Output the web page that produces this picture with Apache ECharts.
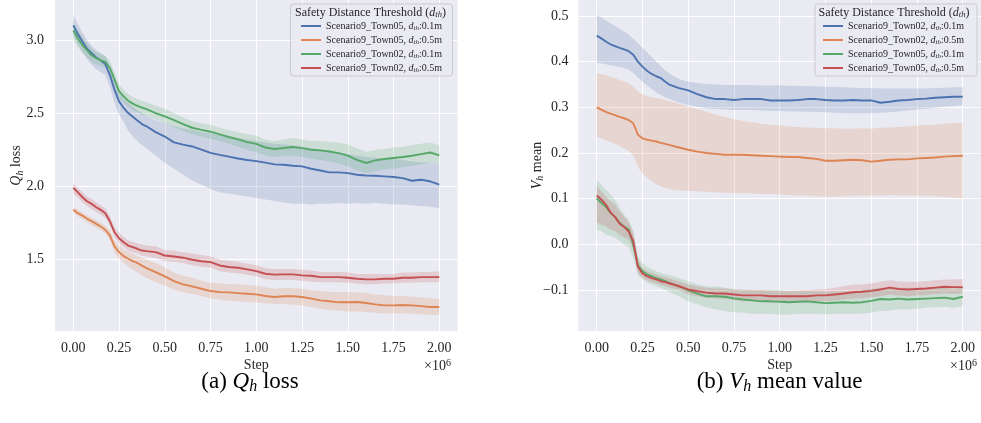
<!DOCTYPE html>
<html><head><meta charset="utf-8">
<script src="https://cdn.jsdelivr.net/npm/echarts@6/dist/echarts.min.js"></script>
<style>html,body{margin:0;padding:0;background:#fff}#c{width:981px;height:423px}</style>
</head><body><div id="c"></div>
<script>
// ---------- DATA ----------
const steps = [0,0.025,0.05,0.075,0.1,0.125,0.15,0.175,0.2,0.225,0.25,0.275,0.3,0.325,0.35,0.375,0.4,
  0.45,0.5,0.55,0.6,0.65,0.7,0.75,0.8,0.85,0.9,0.95,1.0,
  1.05,1.1,1.15,1.2,1.25,1.3,1.35,1.4,1.45,1.5,
  1.55,1.6,1.65,1.7,1.75,1.8,1.85,1.9,1.95,2.0]; // x 1e6
const xTicks = [0,0.25,0.5,0.75,1.0,1.25,1.5,1.75,2.0];
const qTicks = [1.5,2.0,2.5,3.0];
const vTicks = [-0.1,0.0,0.1,0.2,0.3,0.4,0.5];

// (a) Q_h loss
const qT05d01 = [3.10,3.04,2.99,2.94,2.91,2.88,2.86,2.835,2.76,2.66,2.58,2.535,2.50,2.475,2.45,2.425,2.41,
  2.37,2.34,2.30,2.285,2.272,2.25,2.228,2.215,2.203,2.19,2.18,2.172,
  2.162,2.15,2.147,2.14,2.136,2.12,2.108,2.095,2.095,2.09,
  2.079,2.074,2.072,2.068,2.063,2.056,2.038,2.045,2.034,2.011];
const qT05d01Lo = [3.03,2.97,2.92,2.87,2.83,2.80,2.78,2.76,2.68,2.57,2.49,2.44,2.38,2.34,2.31,2.28,2.26,
  2.21,2.16,2.12,2.08,2.04,2.01,1.98,1.96,1.95,1.94,1.93,1.92,
  1.91,1.90,1.89,1.88,1.88,1.875,1.88,1.88,1.885,1.88,
  1.885,1.88,1.885,1.88,1.875,1.875,1.87,1.865,1.86,1.85];
const qT05d01Hi = [3.17,3.11,3.05,3.00,2.96,2.93,2.91,2.89,2.82,2.72,2.64,2.60,2.57,2.545,2.52,2.50,2.48,
  2.45,2.43,2.41,2.395,2.385,2.37,2.36,2.35,2.34,2.33,2.32,2.31,
  2.30,2.29,2.285,2.28,2.27,2.26,2.25,2.24,2.23,2.22,
  2.21,2.20,2.195,2.19,2.185,2.18,2.17,2.165,2.16,2.15];

const qT05d05 = [1.839,1.816,1.80,1.778,1.762,1.743,1.725,1.703,1.664,1.589,1.55,1.523,1.505,1.488,1.476,1.458,1.441,
  1.413,1.384,1.352,1.33,1.316,1.30,1.284,1.277,1.275,1.27,1.266,1.261,
  1.25,1.243,1.248,1.248,1.243,1.232,1.22,1.214,1.207,1.207,
  1.209,1.202,1.193,1.186,1.186,1.189,1.186,1.181,1.175,1.175];
const qT05d05Lo = [1.82,1.795,1.775,1.755,1.735,1.715,1.70,1.675,1.63,1.55,1.505,1.475,1.45,1.43,1.41,1.39,1.375,
  1.345,1.32,1.295,1.275,1.265,1.25,1.235,1.225,1.22,1.215,1.21,1.205,
  1.20,1.195,1.195,1.19,1.185,1.175,1.165,1.155,1.15,1.145,
  1.145,1.14,1.135,1.13,1.13,1.13,1.13,1.125,1.12,1.12];
const qT05d05Hi = [1.86,1.84,1.82,1.80,1.785,1.77,1.75,1.73,1.70,1.63,1.595,1.57,1.555,1.54,1.525,1.51,1.50,
  1.475,1.445,1.41,1.39,1.375,1.355,1.34,1.335,1.33,1.33,1.325,1.32,
  1.31,1.30,1.305,1.305,1.30,1.29,1.285,1.28,1.275,1.275,
  1.275,1.27,1.26,1.255,1.25,1.25,1.245,1.24,1.235,1.23];

const qT02d01 = [3.064,3.01,2.965,2.93,2.895,2.875,2.86,2.85,2.81,2.73,2.65,2.615,2.585,2.565,2.55,2.538,2.527,
  2.50,2.478,2.452,2.425,2.40,2.385,2.373,2.355,2.337,2.32,2.302,2.29,
  2.265,2.255,2.262,2.268,2.261,2.25,2.245,2.238,2.227,2.209,
  2.181,2.159,2.177,2.186,2.193,2.20,2.209,2.22,2.231,2.211];
const qT02d01Lo = [3.00,2.95,2.91,2.88,2.85,2.83,2.82,2.81,2.76,2.68,2.60,2.57,2.54,2.52,2.505,2.49,2.48,
  2.455,2.43,2.405,2.38,2.355,2.34,2.325,2.31,2.29,2.27,2.25,2.235,
  2.21,2.20,2.205,2.21,2.20,2.19,2.18,2.17,2.155,2.135,
  2.11,2.09,2.105,2.115,2.12,2.13,2.14,2.15,2.16,2.15];
const qT02d01Hi = [3.13,3.07,3.02,2.98,2.94,2.92,2.90,2.89,2.86,2.78,2.70,2.66,2.63,2.61,2.595,2.585,2.575,
  2.55,2.53,2.50,2.47,2.445,2.43,2.42,2.40,2.385,2.37,2.355,2.345,
  2.32,2.31,2.32,2.33,2.32,2.31,2.31,2.305,2.30,2.285,
  2.26,2.235,2.25,2.255,2.265,2.27,2.28,2.29,2.30,2.28];

const qT02d05 = [1.989,1.959,1.925,1.898,1.88,1.857,1.839,1.816,1.761,1.686,1.645,1.618,1.595,1.584,1.573,1.561,1.557,
  1.55,1.527,1.52,1.512,1.498,1.488,1.482,1.459,1.448,1.443,1.432,1.42,
  1.402,1.396,1.398,1.398,1.391,1.389,1.379,1.379,1.379,1.375,
  1.368,1.364,1.364,1.368,1.368,1.375,1.375,1.379,1.379,1.379];
const qT02d05Lo = [1.95,1.925,1.89,1.865,1.845,1.825,1.805,1.785,1.73,1.655,1.61,1.585,1.56,1.55,1.54,1.525,1.52,
  1.51,1.49,1.485,1.475,1.46,1.45,1.445,1.42,1.41,1.405,1.395,1.385,
  1.365,1.36,1.36,1.36,1.355,1.35,1.345,1.345,1.345,1.34,
  1.335,1.33,1.33,1.335,1.335,1.34,1.34,1.345,1.345,1.345];
const qT02d05Hi = [2.02,1.99,1.96,1.93,1.915,1.89,1.87,1.85,1.795,1.72,1.68,1.655,1.63,1.62,1.61,1.60,1.595,
  1.59,1.565,1.56,1.55,1.54,1.53,1.52,1.50,1.49,1.485,1.47,1.46,
  1.44,1.435,1.435,1.435,1.43,1.425,1.415,1.415,1.415,1.41,
  1.40,1.40,1.40,1.40,1.40,1.41,1.41,1.415,1.415,1.42];

// (b) V_h mean
const vT02d01 = [0.457,0.451,0.444,0.438,0.434,0.43,0.427,0.423,0.415,0.40,0.389,0.38,0.373,0.368,0.364,0.356,0.349,
  0.342,0.337,0.329,0.322,0.318,0.318,0.316,0.318,0.318,0.318,0.315,0.315,
  0.315,0.316,0.318,0.318,0.316,0.315,0.315,0.316,0.315,0.315,
  0.31,0.312,0.315,0.316,0.318,0.319,0.321,0.322,0.323,0.323];
const vT02d01Lo = [0.398,0.396,0.394,0.392,0.39,0.388,0.386,0.382,0.375,0.365,0.356,0.348,0.34,0.333,0.327,0.322,0.318,
  0.31,0.305,0.301,0.298,0.296,0.295,0.294,0.294,0.294,0.293,0.292,0.292,
  0.291,0.291,0.29,0.29,0.289,0.288,0.287,0.287,0.287,0.287,
  0.288,0.289,0.291,0.293,0.295,0.297,0.299,0.301,0.303,0.305];
const vT02d01Hi = [0.502,0.497,0.49,0.484,0.478,0.472,0.466,0.46,0.45,0.44,0.43,0.42,0.41,0.40,0.39,0.38,0.373,
  0.362,0.356,0.353,0.351,0.35,0.349,0.349,0.349,0.349,0.348,0.348,0.348,
  0.347,0.347,0.346,0.346,0.345,0.345,0.344,0.343,0.342,0.342,
  0.341,0.341,0.341,0.341,0.341,0.341,0.342,0.343,0.344,0.344];

const vT02d05 = [0.30,0.295,0.29,0.286,0.283,0.279,0.276,0.272,0.265,0.24,0.232,0.229,0.227,0.225,0.222,0.22,0.217,
  0.212,0.207,0.203,0.20,0.198,0.196,0.196,0.196,0.195,0.194,0.193,0.192,
  0.191,0.191,0.189,0.187,0.183,0.183,0.184,0.185,0.184,0.181,
  0.183,0.185,0.186,0.186,0.188,0.189,0.19,0.192,0.193,0.194];
const vT02d05Lo = [0.235,0.232,0.228,0.224,0.22,0.215,0.21,0.205,0.195,0.17,0.155,0.145,0.138,0.132,0.127,0.123,0.12,
  0.118,0.117,0.116,0.115,0.114,0.113,0.112,0.112,0.111,0.11,0.11,0.109,
  0.108,0.107,0.106,0.105,0.104,0.104,0.105,0.106,0.106,0.107,
  0.107,0.108,0.107,0.107,0.106,0.106,0.105,0.104,0.102,0.101];
const vT02d05Hi = [0.375,0.372,0.37,0.367,0.364,0.36,0.357,0.352,0.345,0.335,0.328,0.325,0.322,0.32,0.318,0.316,0.313,
  0.308,0.302,0.296,0.29,0.284,0.279,0.274,0.27,0.267,0.264,0.262,0.26,
  0.258,0.257,0.256,0.255,0.254,0.254,0.253,0.253,0.254,0.253,
  0.255,0.256,0.257,0.258,0.26,0.261,0.262,0.264,0.265,0.266];

const vT05d01 = [0.101,0.091,0.082,0.069,0.06,0.047,0.039,0.032,-0.001,-0.046,-0.059,-0.066,-0.07,-0.074,-0.077,-0.081,-0.085,
  -0.092,-0.101,-0.108,-0.114,-0.114,-0.115,-0.1185,-0.121,-0.123,-0.125,-0.125,-0.126,
  -0.127,-0.126,-0.125,-0.127,-0.129,-0.128,-0.127,-0.128,-0.127,-0.124,
  -0.12,-0.121,-0.119,-0.121,-0.12,-0.119,-0.118,-0.117,-0.12,-0.115];
const vT05d01Lo = [0.032,0.029,0.021,0.018,0.014,0.007,-0.001,-0.006,-0.03,-0.066,-0.077,-0.084,-0.088,-0.092,-0.095,-0.1,-0.105,
  -0.114,-0.125,-0.132,-0.138,-0.143,-0.146,-0.149,-0.15,-0.152,-0.152,-0.153,-0.154,
  -0.154,-0.153,-0.152,-0.152,-0.154,-0.152,-0.152,-0.152,-0.152,-0.15,
  -0.146,-0.145,-0.143,-0.143,-0.141,-0.139,-0.138,-0.137,-0.139,-0.136];
const vT05d01Hi = [0.142,0.131,0.12,0.109,0.098,0.08,0.065,0.054,0.029,-0.026,-0.041,-0.049,-0.054,-0.059,-0.063,-0.065,-0.068,
  -0.074,-0.081,-0.088,-0.092,-0.092,-0.095,-0.098,-0.099,-0.1,-0.1,-0.1,-0.1,
  -0.103,-0.103,-0.103,-0.103,-0.104,-0.103,-0.103,-0.103,-0.1,-0.098,
  -0.095,-0.097,-0.095,-0.096,-0.095,-0.095,-0.095,-0.095,-0.099,-0.093];

const vT05d05 = [0.107,0.098,0.087,0.07,0.06,0.045,0.038,0.028,0.007,-0.049,-0.064,-0.07,-0.074,-0.077,-0.081,-0.083,-0.086,
  -0.092,-0.099,-0.103,-0.106,-0.108,-0.108,-0.11,-0.112,-0.112,-0.112,-0.114,-0.114,
  -0.114,-0.114,-0.114,-0.112,-0.112,-0.11,-0.108,-0.105,-0.104,-0.102,
  -0.099,-0.095,-0.098,-0.099,-0.098,-0.097,-0.095,-0.093,-0.094,-0.094];
const vT05d05Lo = [0.047,0.043,0.04,0.032,0.029,0.021,0.014,0.01,-0.011,-0.063,-0.074,-0.079,-0.082,-0.086,-0.089,-0.092,-0.095,
  -0.1,-0.11,-0.114,-0.117,-0.119,-0.119,-0.122,-0.125,-0.125,-0.125,-0.127,-0.127,
  -0.127,-0.127,-0.127,-0.125,-0.125,-0.123,-0.121,-0.119,-0.118,-0.116,
  -0.114,-0.11,-0.112,-0.114,-0.112,-0.111,-0.109,-0.108,-0.109,-0.108];
const vT05d05Hi = [0.127,0.116,0.105,0.094,0.087,0.072,0.061,0.047,0.025,-0.033,-0.052,-0.059,-0.063,-0.066,-0.07,-0.072,-0.075,
  -0.081,-0.088,-0.092,-0.095,-0.097,-0.097,-0.099,-0.1,-0.1,-0.1,-0.102,-0.102,
  -0.102,-0.101,-0.1,-0.099,-0.098,-0.095,-0.092,-0.088,-0.088,-0.086,
  -0.082,-0.079,-0.081,-0.082,-0.082,-0.081,-0.079,-0.077,-0.077,-0.076];

// ---------- CHART ----------
const FONT = '"Liberation Serif", "DejaVu Serif", serif';
const TXT = '#262626';
const COL = {blue:'#4C72B0', orange:'#DD8452', green:'#55A868', red:'#C44E52'};

const legendLabels = {
  'a1': ['Scenario9_Town05, ', ':0.1m'],
  'a2': ['Scenario9_Town05, ', ':0.5m'],
  'a3': ['Scenario9_Town02, ', ':0.1m'],
  'a4': ['Scenario9_Town02, ', ':0.5m'],
  'b1': ['Scenario9_Town02, ', ':0.1m'],
  'b2': ['Scenario9_Town02, ', ':0.5m'],
  'b3': ['Scenario9_Town05, ', ':0.1m'],
  'b4': ['Scenario9_Town05, ', ':0.5m']
};

const sets = [
  {id:'a1', g:0, m:qT05d01, lo:qT05d01Lo, hi:qT05d01Hi, c:COL.blue},
  {id:'a2', g:0, m:qT05d05, lo:qT05d05Lo, hi:qT05d05Hi, c:COL.orange},
  {id:'a3', g:0, m:qT02d01, lo:qT02d01Lo, hi:qT02d01Hi, c:COL.green},
  {id:'a4', g:0, m:qT02d05, lo:qT02d05Lo, hi:qT02d05Hi, c:COL.red},
  {id:'b1', g:1, m:vT02d01, lo:vT02d01Lo, hi:vT02d01Hi, c:COL.blue},
  {id:'b2', g:1, m:vT02d05, lo:vT02d05Lo, hi:vT02d05Hi, c:COL.orange},
  {id:'b3', g:1, m:vT05d01, lo:vT05d01Lo, hi:vT05d01Hi, c:COL.green},
  {id:'b4', g:1, m:vT05d05, lo:vT05d05Lo, hi:vT05d05Hi, c:COL.red}
];

const series = [];
sets.forEach(s => {
  series.push({
    type:'custom', name: s.id + '_band', xAxisIndex:s.g, yAxisIndex:s.g,
    silent:true, clip:true, z:1,
    data:[[steps[0], s.lo[0]]],
    renderItem:(params, api) => {
      const pts = [];
      for (let i = 0; i < steps.length; i++) pts.push(api.coord([steps[i], s.hi[i]]));
      for (let i = steps.length - 1; i >= 0; i--) pts.push(api.coord([steps[i], s.lo[i]]));
      return {type:'polygon', shape:{points:pts}, style:{fill:s.c, opacity:0.2}};
    }
  });
});
sets.forEach(s => {
  series.push({
    type:'line', name:s.id, xAxisIndex:s.g, yAxisIndex:s.g, z:2,
    data: steps.map((x,i) => [x, s.m[i]]),
    symbol:'none', showSymbol:false,
    color:s.c, itemStyle:{color:s.c},
    lineStyle:{color:s.c, width:1.9}
  });
});

const subRich = {
  t:{fontFamily:FONT, fontSize:10, color:TXT, lineHeight:12},
  i:{fontFamily:FONT, fontSize:10, fontStyle:'italic', color:TXT, lineHeight:12},
  s:{fontFamily:FONT, fontSize:7, fontStyle:'italic', color:TXT, lineHeight:8, verticalAlign:'bottom'}
};
function legendFmt(name){
  const p = legendLabels[name];
  return '{t|' + p[0] + '}{i|d}{s|th}{t|' + p[1] + '}';
}
function mkLegend(ids, left){
  return {
    orient:'vertical', left:left, top:20, padding:0, itemGap:2,
    itemWidth:20, itemHeight:2, icon:'rect', z:6,
    data: ids, formatter: legendFmt, selectedMode:false,
    textStyle:{fontFamily:FONT, fontSize:10, color:TXT, lineHeight:12, rich:subRich}
  };
}

const axisLabelBase = {fontFamily:FONT, fontSize:14, color:TXT};
function xAx(g){
  return {
    gridIndex:g, type:'value', min:-0.1, max:2.1,
    axisLine:{show:false}, axisTick:{show:false, customValues:xTicks},
    splitLine:{show:true, lineStyle:{color:'#ffffff', width:1}},
    axisLabel:Object.assign({margin:10, customValues:xTicks, formatter:v => v.toFixed(2)}, axisLabelBase),
    name:'Step', nameLocation:'middle', nameGap:27, nameMoveOverlap:false,
    nameTextStyle:{fontFamily:FONT, fontSize:14, color:TXT}
  };
}
const nameRich = {
  t:{fontFamily:FONT, fontSize:14, color:TXT, lineHeight:17},
  i:{fontFamily:FONT, fontSize:14, fontStyle:'italic', color:TXT, lineHeight:17},
  s:{fontFamily:FONT, fontSize:10, fontStyle:'italic', color:TXT, lineHeight:10, verticalAlign:'bottom'}
};
const capRich = {
  a:{fontFamily:FONT, fontSize:23, fill:'#000', lineHeight:26},
  i:{fontFamily:FONT, fontSize:23, fontStyle:'italic', fill:'#000', lineHeight:26},
  s:{fontFamily:FONT, fontSize:16, fontStyle:'italic', fill:'#000', lineHeight:16, verticalAlign:'bottom'}
};
const titleRich = {
  t:{fontFamily:FONT, fontSize:12, fill:TXT, lineHeight:14},
  i:{fontFamily:FONT, fontSize:12, fontStyle:'italic', fill:TXT, lineHeight:14},
  s:{fontFamily:FONT, fontSize:8.5, fontStyle:'italic', fill:TXT, lineHeight:9, verticalAlign:'bottom'}
};
const offRich = {
  a:{fontFamily:FONT, fontSize:14, fill:TXT, lineHeight:16},
  p:{fontFamily:FONT, fontSize:10, fill:TXT, lineHeight:10, verticalAlign:'top'}
};

const option = {
  animation:false,
  backgroundColor:'#ffffff',
  textStyle:{fontFamily:FONT},
  grid:[
    {left:55, top:0, width:402.6, height:331, show:true, backgroundColor:'#EAEAF2', borderWidth:0, containLabel:false},
    {left:578.4, top:0, width:402.6, height:331, show:true, backgroundColor:'#EAEAF2', borderWidth:0, containLabel:false}
  ],
  xAxis:[xAx(0), xAx(1)],
  yAxis:[
    {gridIndex:0, type:'value', min:1.011, max:3.273,
     axisLine:{show:false}, axisTick:{show:false, customValues:qTicks},
     splitLine:{show:true, lineStyle:{color:'#ffffff', width:1}},
     axisLabel:Object.assign({margin:11, customValues:qTicks, formatter:v => v.toFixed(1)}, axisLabelBase),
     name:'{i|Q}{s|h}{t| loss}', nameLocation:'middle', nameGap:30, nameMoveOverlap:false,
     nameTextStyle:{fontFamily:FONT, fontSize:14, color:TXT, rich:nameRich}},
    {gridIndex:1, type:'value', min:-0.19, max:0.535,
     axisLine:{show:false}, axisTick:{show:false, customValues:vTicks},
     splitLine:{show:true, lineStyle:{color:'#ffffff', width:1}},
     axisLabel:Object.assign({margin:10, customValues:vTicks, formatter:v => v.toFixed(1).replace('-', '\u2212')}, axisLabelBase),
     name:'{i|V}{s|h}{t| mean}', nameLocation:'middle', nameGap:33, nameMoveOverlap:false,
     nameTextStyle:{fontFamily:FONT, fontSize:14, color:TXT, rich:nameRich}}
  ],
  legend:[mkLegend(['a1','a2','a3','a4'], 301), mkLegend(['b1','b2','b3','b4'], 823)],
  graphic:[
    {type:'rect', z:5, shape:{x:290.5, y:4, width:162, height:72, r:3},
     style:{fill:'rgba(234,234,242,0.8)', stroke:'#cccccc', lineWidth:1}},
    {type:'rect', z:5, shape:{x:815, y:4, width:162, height:72, r:3},
     style:{fill:'rgba(234,234,242,0.8)', stroke:'#cccccc', lineWidth:1}},
    {type:'text', z:7, x:295, y:12.5, style:{
      text:'{t|Safety Distance Threshold (}{i|d}{s|th}{t|)}', align:'left', verticalAlign:'middle', rich:titleRich}},
    {type:'text', z:7, x:818.5, y:12.5, style:{
      text:'{t|Safety Distance Threshold (}{i|d}{s|th}{t|)}', align:'left', verticalAlign:'middle', rich:titleRich}},
    {type:'text', z:7, x:451, y:366, style:{
      text:'{a|\u00d710}{p|6}', align:'right', verticalAlign:'middle', rich:offRich}},
    {type:'text', z:7, x:977, y:366, style:{
      text:'{a|\u00d710}{p|6}', align:'right', verticalAlign:'middle', rich:offRich}},
    {type:'text', z:7, x:250, y:382, style:{
      text:'{a|(a) }{i|Q}{s|h}{a| loss}', align:'center', verticalAlign:'middle', rich:capRich}},
    {type:'text', z:7, x:779.5, y:382, style:{
      text:'{a|(b) }{i|V}{s|h}{a| mean value}', align:'center', verticalAlign:'middle', rich:capRich}}
  ],
  series:series
};

const chart = echarts.init(document.getElementById('c'), null, {renderer:'canvas'});
chart.setOption(option);
</script>
</body></html>
